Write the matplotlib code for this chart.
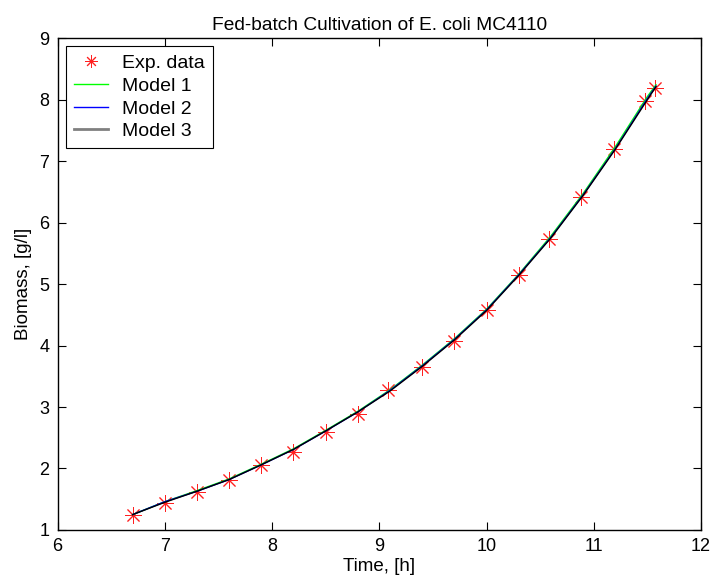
import matplotlib.pyplot as plt

plt.rcParams["font.family"] = ["Liberation Sans", "DejaVu Sans"]

# experimental data
exp_t = [6.7, 7.0, 7.3, 7.6, 7.9, 8.2, 8.5, 8.8, 9.08, 9.4, 9.7, 10.0,
         10.3, 10.58, 10.88, 11.19, 11.48, 11.57]
exp_x = [1.24, 1.44, 1.61, 1.81, 2.05, 2.27, 2.59, 2.89, 3.27, 3.65, 4.08,
         4.57, 5.15, 5.74, 6.41, 7.19, 7.98, 8.19]

# model curves
mod_t = [6.7, 7.0, 7.3, 7.6, 7.9, 8.2, 8.5, 8.8, 9.1, 9.4, 9.7, 10.0,
         10.3, 10.6, 10.9, 11.2, 11.5, 11.58]
mod1 = [1.25, 1.46, 1.64, 1.83, 2.07, 2.32, 2.62, 2.93, 3.28, 3.68, 4.11,
        4.59, 5.16, 5.78, 6.47, 7.23, 8.05, 8.24]
mod2 = [1.25, 1.46, 1.63, 1.82, 2.06, 2.31, 2.61, 2.92, 3.27, 3.67, 4.10,
        4.58, 5.15, 5.76, 6.45, 7.20, 8.02, 8.22]
mod3 = [1.25, 1.45, 1.63, 1.82, 2.06, 2.31, 2.61, 2.92, 3.26, 3.66, 4.09,
        4.57, 5.14, 5.75, 6.44, 7.19, 8.00, 8.21]

fig = plt.figure(figsize=(7.12, 5.86), dpi=100)
ax = fig.add_axes([0.0808, 0.0956, 0.9038, 0.8394])

ax.plot(exp_t, exp_x, linestyle="none", marker=(8, 2, 0), markersize=12,
        color="#ff2020", markeredgewidth=0.7, label="Exp. data")
ax.plot(mod_t, mod1, color="#00ff00", lw=1, label="Model 1")
ax.plot(mod_t, mod2, color="blue", lw=1, label="Model 2")
ax.plot(mod_t, mod3, color="black", lw=1, label="Model 3")

ax.set_xlim(6, 12)
ax.set_ylim(1, 9)
ax.set_xticks(range(6, 13))
ax.set_yticks(range(1, 10))
ax.tick_params(direction="in", top=True, right=True, length=6,
               labelsize=13, pad=6, width=0.8)
for s in ax.spines.values():
    s.set_linewidth(1)

ax.set_title("Fed-batch Cultivation of E. coli MC4110", fontsize=13.8, pad=6)
ax.set_xlabel("Time, [h]", fontsize=13.5, labelpad=2)
ax.set_ylabel("Biomass, [g/l]", fontsize=13.5, labelpad=5)

leg = ax.legend(loc="upper left", fontsize=14, fancybox=False,
                edgecolor="black", framealpha=1, borderaxespad=0.43,
                handlelength=1.75, handletextpad=0.7, labelspacing=0.26,
                markerscale=0.75, borderpad=0.42)
leg.get_frame().set_linewidth(0.8)
leg.get_lines()[3].set_color("gray")
leg.get_lines()[3].set_linewidth(2)

fig.savefig("out.png", dpi=100)
